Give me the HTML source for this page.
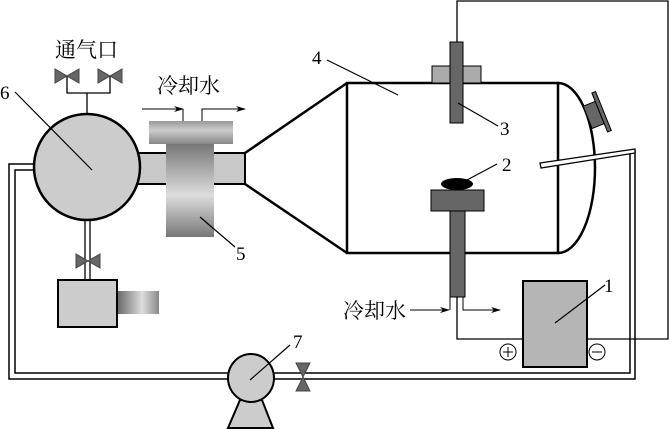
<!DOCTYPE html>
<html><head><meta charset="utf-8"><style>html,body{margin:0;padding:0;background:#fff}svg{display:block}</style></head>
<body>
<svg width="670" height="429" viewBox="0 0 670 429" xmlns="http://www.w3.org/2000/svg" font-family="'Liberation Serif','Noto Serif CJK SC',serif">
<defs>
<linearGradient id="gv" x1="0" y1="0" x2="0" y2="1">
<stop offset="0" stop-color="#777"/><stop offset="0.55" stop-color="#ddd"/><stop offset="1" stop-color="#777"/>
</linearGradient>
<linearGradient id="gh" x1="0" y1="0" x2="1" y2="0">
<stop offset="0" stop-color="#666"/><stop offset="0.6" stop-color="#ddd"/><stop offset="1" stop-color="#888"/>
</linearGradient>
<linearGradient id="gt" x1="0" y1="0" x2="0" y2="1">
<stop offset="0" stop-color="#999"/><stop offset="0.4" stop-color="#ccc"/><stop offset="1" stop-color="#888"/>
</linearGradient>
<marker id="ar" markerWidth="10" markerHeight="6" refX="9" refY="3" orient="auto" markerUnits="userSpaceOnUse"><path d="M0,0 L10,3 L0,6 L3,3 Z" fill="#000"/></marker>
</defs>
<g fill="none" stroke="#000">
<polyline points="34,164 9,164 9,379 635,379 635,150" stroke-width="1.5"/>
<polyline points="34,170 15,170 15,373 630,373 630,153" stroke-width="1.5"/>
<polyline points="87,113 87,93" stroke-width="1.3"/>
<polyline points="67,76 67,93 110,93 110,76" stroke-width="1.3"/>
<line x1="85" y1="221" x2="85" y2="280" stroke-width="1.3"/>
<line x1="90" y1="221" x2="90" y2="280" stroke-width="1.3"/>
<polyline points="457,42 457,1 668,1 668,339 587,339" stroke-width="1.3"/>
<polyline points="457,297 457,339 523,339" stroke-width="1.3"/>
</g>
<rect x="135" y="153" width="110" height="31" fill="#c8c8c8" stroke="#000" stroke-width="2"/>
<polyline points="245,153 347,83" stroke="#000" stroke-width="2.5" fill="none"/>
<polyline points="245,184 347,253" stroke="#000" stroke-width="2.5" fill="none"/>
<path d="M558,83 A37 85 0 0 1 558,253" fill="#fff" stroke="#000" stroke-width="2.5"/>
<rect x="347" y="83" width="211" height="170" fill="#fff" stroke="#000" stroke-width="2.5"/>
<g transform="translate(596,114) rotate(-22)">
<rect x="-9" y="-12" width="13" height="24" fill="#666" stroke="#000"/>
<rect x="4" y="-21" width="4" height="42" fill="#666" stroke="#000"/>
</g>
<polygon points="540,163 635,149 635,153 541,168" fill="#fff" stroke="#000" stroke-width="1.3"/>
<rect x="432" y="66" width="49" height="17" fill="#aaa" stroke="#000"/>
<rect x="450" y="42" width="13" height="81" fill="#666" stroke="#000"/>
<rect x="450" y="211" width="15" height="86" fill="#666" stroke="#000"/>
<rect x="431" y="190" width="53" height="21" fill="#666" stroke="#000"/>
<ellipse cx="457" cy="184" rx="16" ry="6" fill="#000"/>
<polyline points="450,297 450,310" stroke="#000" fill="none"/>
<polyline points="463,297 463,310 500,310" stroke="#000" fill="none" marker-end="url(#ar)"/>
<line x1="410" y1="310" x2="449" y2="310" stroke="#000" marker-end="url(#ar)"/>
<circle cx="87" cy="167" r="53" fill="#ccc" stroke="#000" stroke-width="2.5"/>
<rect x="166" y="144" width="48" height="93" fill="url(#gv)"/>
<rect x="149" y="121" width="84" height="23" fill="url(#gt)"/>
<polyline points="142,109 183,109" stroke="#000" fill="none" marker-end="url(#ar)"/>
<polyline points="183,109 183,121" stroke="#000" fill="none"/>
<polyline points="202,121 202,109 245,109" stroke="#000" fill="none" marker-end="url(#ar)"/>
<g fill="#666" stroke="#444">
<polygon points="55,69 55,83 67,76"/><polygon points="79,69 79,83 67,76"/>
<polygon points="98,69 98,83 110,76"/><polygon points="122,69 122,83 110,76"/>
<polygon points="76,254 76,268 88,261"/><polygon points="100,254 100,268 88,261"/>
<polygon points="296,363 310,363 303,377"/><polygon points="296,391 310,391 303,377"/>
</g>
<rect x="117" y="291" width="42" height="23" fill="url(#gh)"/>
<rect x="58" y="280" width="59" height="47" fill="#ccc" stroke="#000" stroke-width="2"/>
<polygon points="240,400 262,400 273,428 228,428" fill="#ccc" stroke="#000" stroke-width="2"/>
<ellipse cx="251" cy="378" rx="23" ry="24" fill="#ccc" stroke="#000" stroke-width="2"/>
<rect x="523" y="281" width="64" height="86" fill="#b5b5b5" stroke="#000" stroke-width="2"/>
<circle cx="508" cy="352" r="8" fill="#fff" stroke="#000"/>
<line x1="503" y1="352" x2="513" y2="352" stroke="#000"/><line x1="508" y1="347" x2="508" y2="357" stroke="#000"/>
<circle cx="597" cy="352" r="8" fill="#fff" stroke="#000"/>
<line x1="592" y1="352" x2="602" y2="352" stroke="#000"/>
<g stroke="#000" stroke-width="1.2">
<line x1="15" y1="92" x2="92" y2="170"/>
<line x1="327" y1="60" x2="398" y2="95"/>
<line x1="498" y1="126" x2="458" y2="103"/>
<line x1="497" y1="164" x2="467" y2="180"/>
<line x1="235" y1="247" x2="200" y2="217"/>
<line x1="605" y1="285" x2="555" y2="323"/>
<line x1="290" y1="345" x2="250" y2="380"/>
</g>
<g font-size="19" fill="#000">
<text x="55" y="57" font-size="21">通气口</text>
<text x="157" y="93" font-size="21">冷却水</text>
<text x="343" y="318" font-size="21">冷却水</text>
<text x="0" y="99">6</text>
<text x="312" y="64">4</text>
<text x="500" y="135">3</text>
<text x="502" y="171">2</text>
<text x="236" y="260">5</text>
<text x="604" y="292">1</text>
<text x="293" y="348">7</text>
</g>
</svg>
</body></html>
